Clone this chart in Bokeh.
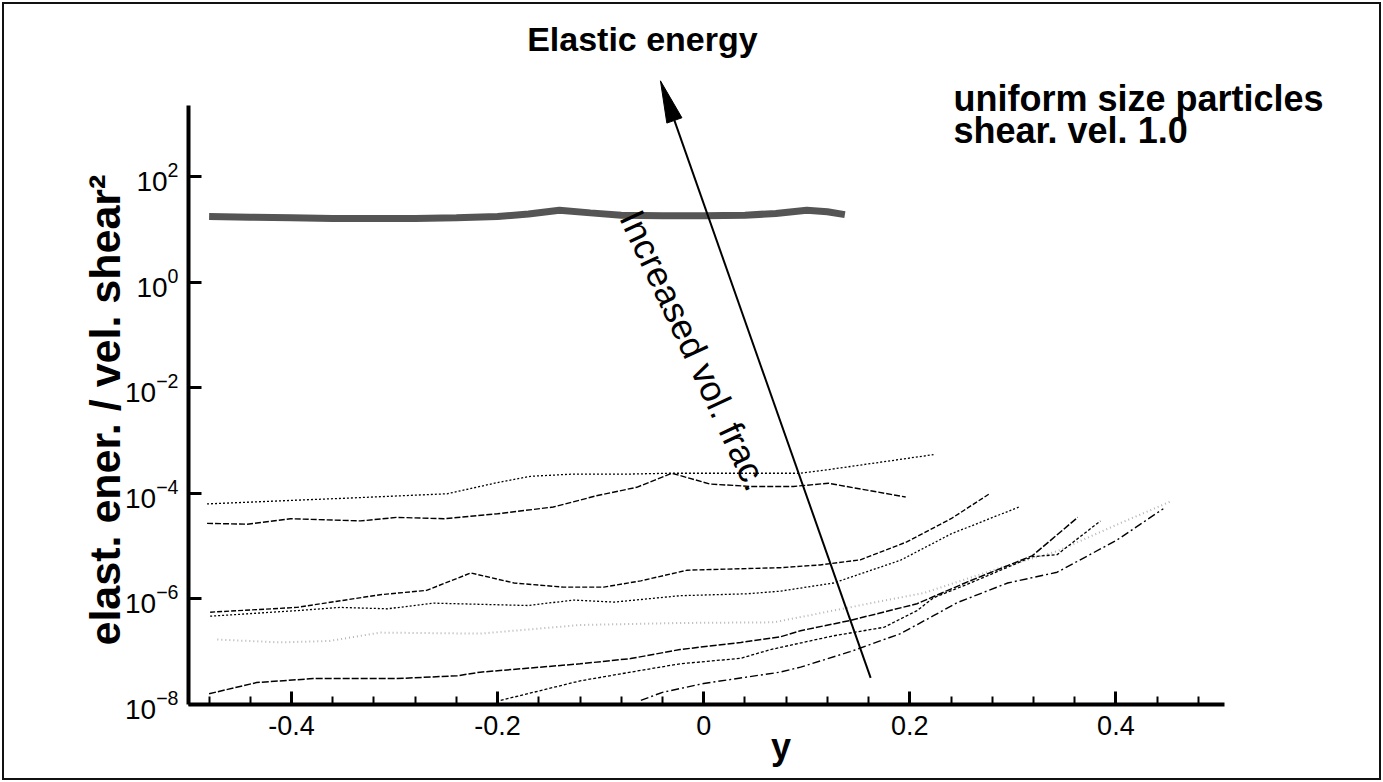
import numpy as np
from bokeh.plotting import figure
from bokeh.models import (Range1d, FixedTicker, LogTickFormatter, NumeralTickFormatter,
                          Label, Arrow, Title, InlineStyleSheet)
from bokeh.embed import file_html
from bokeh.resources import INLINE

FONT = "Liberation Sans"

# Elastic energy profiles across the channel (y), lowest volume fraction first.
y_vf1 = [-0.061, -0.040, 0.000, 0.074, 0.094, 0.142, 0.191, 0.223, 0.246, 0.295, 0.343, 0.401, 0.446]
e_vf1 = [1.2e-8, 1.7e-8, 2.5e-8, 4.1e-8, 5.1e-8, 1.0e-7, 2.2e-7, 4.8e-7, 8.5e-7, 2.0e-6, 3.2e-6, 1.3e-5, 5.1e-5]

y_vf2 = [-0.197, -0.120, -0.071, -0.023, 0.036, 0.065, 0.126, 0.175, 0.207, 0.223, 0.256, 0.319, 0.343, 0.385]
e_vf2 = [1.2e-8, 2.8e-8, 4.1e-8, 5.9e-8, 7.5e-8, 1.1e-7, 2.0e-7, 2.9e-7, 6.0e-7, 1.05e-6, 1.9e-6, 6.3e-6, 6.9e-6, 3.0e-5]

y_vf3 = [-0.480, -0.434, -0.379, -0.298, -0.239, -0.217, -0.120, -0.071, -0.023, 0.036, 0.074, 0.094, 0.142, 0.207, 0.256, 0.319, 0.363]
e_vf3 = [1.6e-8, 2.6e-8, 3.1e-8, 3.1e-8, 3.5e-8, 4.1e-8, 5.9e-8, 7.4e-8, 1.1e-7, 1.5e-7, 1.9e-7, 2.5e-7, 3.9e-7, 8.1e-7, 2.1e-6, 6.6e-6, 3.5e-5]

y_vf4 = [-0.472, -0.411, -0.363, -0.314, -0.217, -0.120, -0.023, 0.068, 0.175, 0.214, 0.290, 0.343, 0.400, 0.453]
e_vf4 = [1.7e-7, 1.5e-7, 1.6e-7, 2.3e-7, 2.2e-7, 3.2e-7, 3.5e-7, 3.6e-7, 9.3e-7, 1.3e-6, 4.0e-6, 8.0e-6, 2.5e-5, 7.0e-5]

y_vf5 = [-0.479, -0.395, -0.353, -0.307, -0.262, -0.171, -0.126, -0.087, -0.023, 0.042, 0.074, 0.126, 0.191, 0.240, 0.307]
e_vf5 = [4.7e-7, 6.0e-7, 6.9e-7, 6.5e-7, 8.3e-7, 7.5e-7, 9.5e-7, 8.7e-7, 1.15e-6, 1.25e-6, 1.4e-6, 2.0e-6, 5.4e-6, 1.7e-5, 5.6e-5]

y_vf6 = [-0.479, -0.395, -0.314, -0.269, -0.226, -0.184, -0.136, -0.097, -0.061, -0.016, 0.074, 0.113, 0.152, 0.197, 0.240, 0.278]
e_vf6 = [5.6e-7, 6.9e-7, 1.2e-6, 1.45e-6, 3.1e-6, 2.0e-6, 1.67e-6, 1.67e-6, 2.2e-6, 3.5e-6, 3.9e-6, 4.4e-6, 5.5e-6, 1.2e-5, 3.3e-5, 1.0e-4]

y_vf7 = [-0.482, -0.443, -0.401, -0.333, -0.298, -0.252, -0.200, -0.146, -0.103, -0.065, -0.031, 0.006, 0.045, 0.087, 0.121, 0.196]
e_vf7 = [2.7e-5, 2.6e-5, 3.3e-5, 3.0e-5, 3.5e-5, 3.3e-5, 4.1e-5, 5.5e-5, 9.1e-5, 1.3e-4, 2.4e-4, 1.5e-4, 1.35e-4, 1.35e-4, 1.55e-4, 8.5e-5]

y_vf8 = [-0.482, -0.411, -0.346, -0.249, -0.200, -0.168, -0.129, -0.078, -0.033, 0.030, 0.094, 0.126, 0.223]
e_vf8 = [6.3e-5, 7.2e-5, 8.1e-5, 9.8e-5, 1.6e-4, 2.1e-4, 2.3e-4, 2.3e-4, 2.4e-4, 2.4e-4, 2.4e-4, 2.9e-4, 5.4e-4]

y_vf9 = [-0.48, -0.44, -0.40, -0.36, -0.32, -0.28, -0.24, -0.20, -0.17, -0.14, -0.11, -0.08, -0.04, 0.00, 0.04, 0.07, 0.10, 0.12, 0.137]
e_vf9 = [17.5, 17.0, 16.5, 16.0, 16.0, 16.0, 16.5, 17.5, 19.5, 23.0, 20.5, 18.5, 18.0, 18.0, 18.5, 20.0, 23.0, 21.5, 19.0]

# axis ticks
x_major = [-0.4, -0.2, 0.0, 0.2, 0.4]
x_minor = [round(-0.48 + 0.04 * i, 2) for i in range(25)]
e_major = [1e-8, 1e-6, 1e-4, 1e-2, 1e0, 1e2]

# plotted window; the axis lines only run over the data window
X_LO, X_HI = -0.5, 0.65
E_LO, E_HI = 1e-8, 10 ** 5.05
FW, FH = 1185, 689
E_AXIS_TOP = 10 ** 3.34

p = figure(frame_width=FW, frame_height=FH,
           x_range=Range1d(X_LO, X_HI), y_range=Range1d(E_LO, E_HI),
           y_axis_type="log", output_backend="svg", toolbar_location=None,
           min_border_left=188, min_border_right=10,
           min_border_top=15, min_border_bottom=78)
p.outline_line_color = None
p.grid.visible = False
p.border_fill_color = None
p.background_fill_color = None
p.stylesheets = [InlineStyleSheet(
    css=":host { outline: 2px solid #111; outline-offset: -4px; background: white; }")]

for ax in (p.xaxis[0], p.yaxis[0]):
    ax.axis_line_width = 4
    ax.axis_line_color = "black"
    ax.major_tick_line_width = 3
    ax.major_tick_in = 13
    ax.major_tick_out = 0
    ax.minor_tick_in = 8
    ax.minor_tick_out = 0
    ax.minor_tick_line_width = 2
    ax.major_label_text_font = FONT
    ax.major_label_text_color = "black"
    ax.axis_label_text_font = FONT
    ax.axis_label_text_font_style = "bold"
    ax.axis_label_text_color = "black"

xa = p.xaxis[0]
xa.bounds = (-0.5, 0.505)
xa.ticker = FixedTicker(ticks=x_major, minor_ticks=x_minor)
xa.formatter = NumeralTickFormatter(format="0.[0]")
xa.major_label_text_font_size = "27px"
xa.major_label_standoff = 11
xa.axis_label = "y"
xa.axis_label_text_font_size = "36px"
xa.axis_label_standoff = -12

ya = p.yaxis[0]
ya.bounds = (E_LO, E_AXIS_TOP)
ya.ticker = FixedTicker(ticks=e_major)
ya.formatter = LogTickFormatter()
ya.minor_tick_line_color = None
ya.major_label_text_font_size = "28px"
ya.major_label_standoff = 10

# vertical title for the energy axis, started near the bottom of the axis
p.add_layout(Title(text="elast. ener. / vel. shear\u00b2", align="left", offset=59,
                   standoff=-12, text_font=FONT, text_font_size="43px",
                   text_font_style="bold", text_color="black"), "left")

# curves
p.line(y_vf9, e_vf9, line_color="#555555", line_width=7)
p.line(y_vf8, e_vf8, line_color="black", line_width=1.3, line_dash="2 2")
p.line(y_vf7, e_vf7, line_color="black", line_width=1.4, line_dash="6 2")
p.line(y_vf6, e_vf6, line_color="black", line_width=1.4, line_dash="5 2")
p.line(y_vf5, e_vf5, line_color="black", line_width=1.3, line_dash="2 2")
p.line(y_vf4, e_vf4, line_color="#b4b4b4", line_width=2, line_dash="1 3")
p.line(y_vf3, e_vf3, line_color="black", line_width=1.5, line_dash="7 2")
p.line(y_vf2, e_vf2, line_color="black", line_width=1.3, line_dash="3 2")
p.line(y_vf1, e_vf1, line_color="black", line_width=1.4, line_dash="8 3 2 3")

# arrow pointing towards increased volume fraction
ARROW_TAIL = (0.162, 3.2e-8)
ARROW_TIP = (-0.042, 6.5e3)
HEAD_LEN, HEAD_HALF = 42.0, 8.0

lx0, lx1 = np.log10(E_LO), np.log10(E_HI)


def to_px(x, v):
    return ((x - X_LO) / (X_HI - X_LO) * FW, (np.log10(v) - lx0) / (lx1 - lx0) * FH)


def from_px(px, py):
    return (X_LO + px / FW * (X_HI - X_LO), 10 ** (lx0 + py / FH * (lx1 - lx0)))


tx, ty = to_px(*ARROW_TIP)
sx, sy = to_px(*ARROW_TAIL)
d = np.array([tx - sx, ty - sy])
u = d / np.hypot(*d)
n = np.array([-u[1], u[0]])
base = np.array([tx, ty]) - HEAD_LEN * u
left = base + HEAD_HALF * n
right = base - HEAD_HALF * n
bx, by = from_px(*base)
p.add_layout(Arrow(end=None, x_start=ARROW_TAIL[0], y_start=ARROW_TAIL[1],
                   x_end=bx, y_end=by, line_width=2, line_color="black"))
head = [from_px(*pt) for pt in (left, (tx, ty), right)]
p.patch([h[0] for h in head], [h[1] for h in head], fill_color="black", line_color="black")

p.add_layout(Label(x=-0.009, y=0.0509, text="Increased vol. frac.", angle=np.deg2rad(-65),
                   text_align="center", text_baseline="middle", text_font=FONT,
                   text_font_size="36px", text_color="black"))

p.add_layout(Label(x=-0.0595, y=10 ** 4.60, text="Elastic energy", text_align="center",
                   text_baseline="alphabetic", text_font=FONT, text_font_size="34px",
                   text_font_style="bold", text_color="black"))
p.add_layout(Label(x=0.2424, y=10 ** 3.48, text="uniform size particles", text_align="left",
                   text_baseline="alphabetic", text_font=FONT, text_font_size="36px",
                   text_font_style="bold", text_color="black"))
p.add_layout(Label(x=0.2424, y=10 ** 2.88, text="shear. vel. 1.0", text_align="left",
                   text_baseline="alphabetic", text_font=FONT, text_font_size="36px",
                   text_font_style="bold", text_color="black"))

open("out.html", "w").write(file_html(p, INLINE))
